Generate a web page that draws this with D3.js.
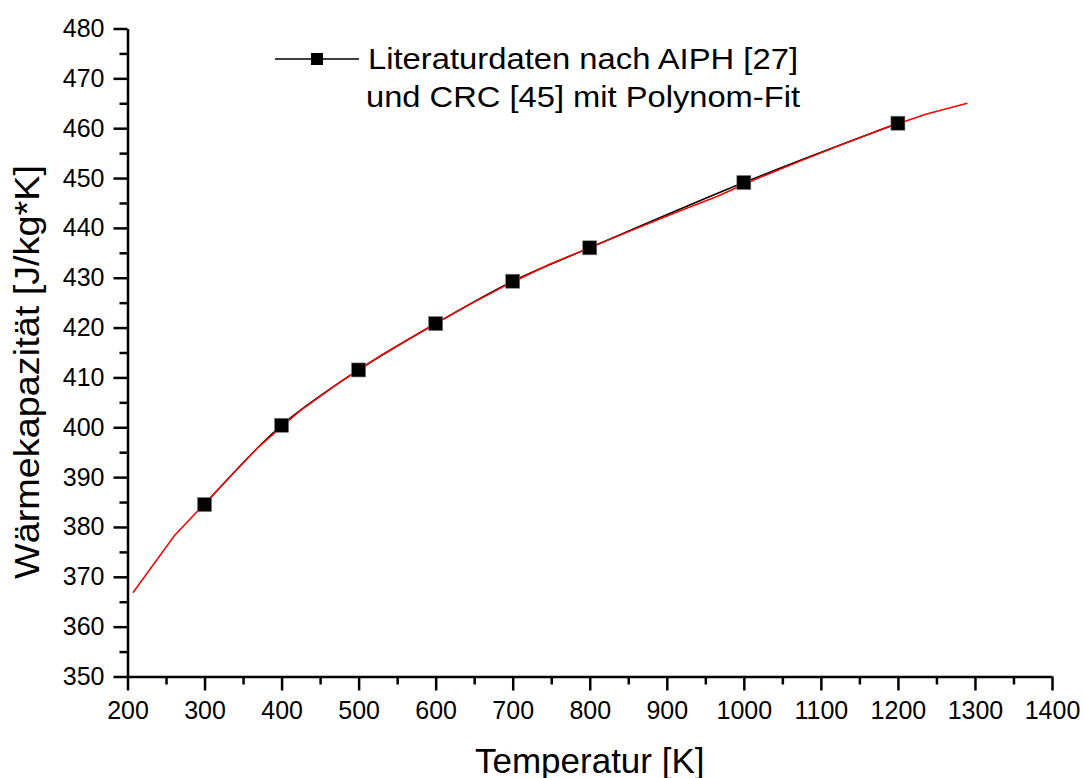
<!DOCTYPE html>
<html>
<head>
<meta charset="utf-8">
<script src="https://cdn.jsdelivr.net/npm/d3@7"></script>
<style>
  body { margin: 0; background: #fff; }
  text { font-family: Arial, "Liberation Sans", sans-serif; fill: #000; }
</style>
</head>
<body>
<svg width="1084" height="778"></svg>
<script>
// Literaturdaten (AIPH / CRC)
var tempData = [300, 400, 500, 600, 700, 800, 1000, 1200];
var cpData = [384.5, 400.4, 411.5, 420.8, 429.3, 436.0, 449.1, 461.0];

// Polynom-Fit
var fitTemp = [207, 261, 315, 369, 423, 477, 531, 585, 640, 694, 748, 802, 856, 910, 965, 1019, 1073, 1127, 1181, 1236, 1290];
var fitCp = [366.8, 378.3, 387.1, 395.9, 403.2, 409.2, 414.6, 419.5, 424.3, 428.7, 432.7, 436.2, 439.6, 443.0, 446.3, 450.0, 453.4, 456.7, 459.9, 462.8, 465.0];

var xTicks = d3.range(200, 1401, 100);
var yTicks = d3.range(350, 481, 10);

var svg = d3.select("svg"),
    margin = { top: 28.5, right: 32, bottom: 101.5, left: 127.5 },
    width = +svg.attr("width") - margin.left - margin.right,
    height = +svg.attr("height") - margin.top - margin.bottom;

var x = d3.scaleLinear().domain([200, 1400]).range([0, width]),
    y = d3.scaleLinear().domain([350, 480]).range([height, 0]);

var g = svg.append("g")
    .attr("transform", "translate(" + margin.left + "," + margin.top + ")");

// minor ticks
g.append("g")
    .attr("transform", "translate(0," + height + ")")
    .call(d3.axisBottom(x).tickValues(d3.range(250, 1400, 100)).tickSize(8).tickFormat(""))
    .call(function (a) { a.select(".domain").remove(); a.selectAll("line").attr("stroke-width", 2.5); });
g.append("g")
    .call(d3.axisLeft(y).tickValues(d3.range(355, 480, 10)).tickSize(8).tickFormat(""))
    .call(function (a) { a.select(".domain").remove(); a.selectAll("line").attr("stroke-width", 2.5); });

// major axes
var xAxis = g.append("g")
    .attr("transform", "translate(0," + height + ")")
    .call(d3.axisBottom(x).tickValues(xTicks).tickFormat(d3.format("d"))
        .tickSize(14).tickSizeOuter(0).tickPadding(11));
var yAxis = g.append("g")
    .call(d3.axisLeft(y).tickValues(yTicks).tickFormat(d3.format("d"))
        .tickSize(14).tickSizeOuter(0).tickPadding(9));

[xAxis, yAxis].forEach(function (a) {
    a.attr("font-family", null);
    a.select(".domain").attr("stroke-width", 2.5);
    a.selectAll(".tick line").attr("stroke-width", 2.5);
    a.selectAll(".tick text").attr("font-size", 25);
});

// data line (spline through points)
var dataLine = d3.line()
    .x(function (d, i) { return x(tempData[i]); })
    .y(function (d) { return y(d); })
    .curve(d3.curveCatmullRom);
g.append("path")
    .attr("d", dataLine(cpData))
    .attr("fill", "none")
    .attr("stroke", "#000")
    .attr("stroke-width", 1.5);

// fit line
var fitLine = d3.line()
    .x(function (d, i) { return x(fitTemp[i]); })
    .y(function (d) { return y(d); });
g.append("path")
    .attr("d", fitLine(fitCp))
    .attr("fill", "none")
    .attr("stroke", "#ff0000")
    .attr("stroke-width", 1.5);

// squares
var sq = 14;
g.selectAll(".pt")
    .data(cpData)
    .enter().append("rect")
    .attr("class", "pt")
    .attr("x", function (d, i) { return x(tempData[i]) - sq / 2; })
    .attr("y", function (d) { return y(d) - sq / 2; })
    .attr("width", sq)
    .attr("height", sq)
    .attr("fill", "#000")
    .attr("stroke", "#777")
    .attr("stroke-width", 0.6);

// legend
var leg = svg.append("g");
leg.append("line")
    .attr("x1", 275).attr("x2", 359).attr("y1", 59).attr("y2", 59)
    .attr("stroke", "#000").attr("stroke-width", 1.3);
leg.append("rect")
    .attr("x", 311).attr("y", 53).attr("width", 12).attr("height", 12)
    .attr("fill", "#000");
leg.append("text")
    .attr("x", 368).attr("y", 69)
    .attr("font-size", 30)
    .attr("textLength", 430).attr("lengthAdjust", "spacingAndGlyphs")
    .text("Literaturdaten nach AIPH [27]");
leg.append("text")
    .attr("x", 366).attr("y", 107)
    .attr("font-size", 30)
    .attr("textLength", 434).attr("lengthAdjust", "spacingAndGlyphs")
    .text("und CRC [45] mit Polynom-Fit");

// axis titles
svg.append("text")
    .attr("x", margin.left + width / 2)
    .attr("y", 772.5)
    .attr("text-anchor", "middle")
    .attr("font-size", 35)
    .text("Temperatur [K]");
svg.append("text")
    .attr("transform", "translate(39,372) rotate(-90)")
    .attr("x", -207)
    .attr("font-size", 35)
    .attr("textLength", 414).attr("lengthAdjust", "spacingAndGlyphs")
    .text("Wärmekapazität [J/kg*K]");
</script>
</body>
</html>
